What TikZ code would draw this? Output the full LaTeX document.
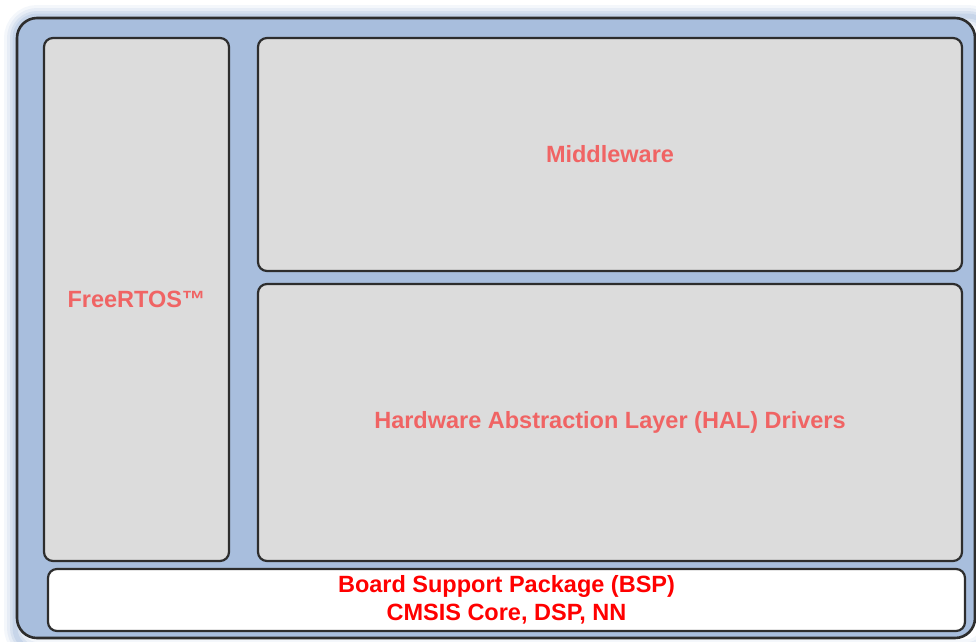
\documentclass[tikz,border=0pt]{standalone}
\usepackage{fontspec}
\setmainfont{Liberation Sans}
\definecolor{boardblue}{RGB}{168,190,221}
\definecolor{layergray}{RGB}{220,220,220}
\definecolor{edgegray}{RGB}{45,45,45}
\definecolor{softred}{RGB}{240,100,100}
\begin{document}
\begin{tikzpicture}[x=1pt, y=-1pt,
    layer/.style={draw=edgegray, fill=layergray, line width=2.2pt,
    rounded corners=9pt, inner sep=0pt, font=\bfseries\fontsize{23.5}{28}\selectfont,
    text=softred, align=center},
    base/.style={layer, fill=white, text=red}]
  \useasboundingbox (0,0) rectangle (976,641);
  % glow round the board
  \foreach \w/\o in {22/0.12, 16/0.18, 10/0.25, 5/0.35}
    \draw[boardblue, opacity=\o, line width=\w pt, rounded corners=22pt]
      (15,16) rectangle (990,650);
  \draw[fill=boardblue, draw=edgegray, line width=2.6pt, rounded corners=20pt]
    (17,18) rectangle (975,638);

  \node[layer, minimum width=185pt, minimum height=523pt] (rtos) at (136.5,299.5) {FreeRTOS™};
  \node[layer, minimum width=704pt, minimum height=233pt] (middleware) at (610,154.5) {Middleware};
  \node[layer, minimum width=704pt, minimum height=277pt] (hal) at (610,422.5)
    {Hardware Abstraction Layer (HAL) Drivers};
  \node[base, minimum width=917pt, minimum height=62pt] (bsp) at (506.5,600)
    {Board Support Package (BSP)\\CMSIS Core, DSP, NN};
\end{tikzpicture}
\end{document}
